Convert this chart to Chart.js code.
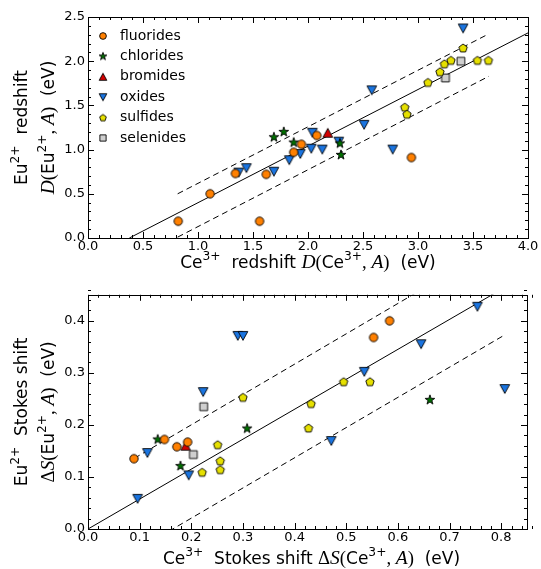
<!DOCTYPE html>
<html>
<head>
<meta charset="utf-8">
<script src="https://cdn.jsdelivr.net/npm/chart.js@4.4.0/dist/chart.umd.min.js"></script>
<style>
    body { margin: 0; background: #fff; }
    canvas { position: absolute; left: 0; }
</style>
</head>
<body>
<canvas id="redshiftChart" width="541" height="284" style="top:0"></canvas>
<canvas id="stokesChart" width="541" height="285" style="top:284px"></canvas>
<script>
// groups (legend order)
const groups = ['fluorides', 'chlorides', 'bromides', 'oxides', 'sulfides', 'selenides'];

// Redshift: [D(Ce3+,A), D(Eu2+,A)] in eV
const redFluorides = [[0.82, 0.19], [1.11, 0.50], [1.34, 0.73], [1.56, 0.19], [1.62, 0.72], [1.87, 0.97], [1.94, 1.06], [2.08, 1.16], [2.94, 0.91]];
const redChlorides = [[1.69, 1.14], [1.78, 1.20], [1.87, 1.08], [2.29, 1.07], [2.30, 0.94]];
const redBromides = [[2.18, 1.19]];
const redOxides = [[1.37, 0.74], [1.44, 0.79], [1.69, 0.75], [1.83, 0.88], [1.93, 0.95], [2.03, 1.01], [2.13, 1.00], [2.04, 1.19], [2.28, 1.09], [2.51, 1.28], [2.58, 1.67], [2.77, 1.00], [3.41, 2.37]];
const redSulfides = [[2.88, 1.48], [2.90, 1.40], [3.09, 1.76], [3.20, 1.88], [3.24, 1.97], [3.30, 2.01], [3.41, 2.15], [3.54, 2.01], [3.64, 2.01]];
const redSelenides = [[3.25, 1.81], [3.39, 2.00]];
const redFit = [[0.376, 0], [4.0, 2.32]];
const redUpper = [[0.815, 0.50], [3.645, 2.31]];
const redLower = [[0.815, 0.01], [3.645, 1.83]];
const redXTicks = [0, 0.5, 1.0, 1.5, 2.0, 2.5, 3.0, 3.5, 4.0];
const redYTicks = [0, 0.5, 1.0, 1.5, 2.0, 2.5];

// Stokes shift: [dS(Ce3+,A), dS(Eu2+,A)] in eV
const stokesFluorides = [[0.089, 0.135], [0.148, 0.172], [0.172, 0.158], [0.193, 0.167], [0.553, 0.368], [0.584, 0.400]];
const stokesChlorides = [[0.135, 0.172], [0.179, 0.121], [0.308, 0.193], [0.662, 0.248]];
const stokesBromides = [[0.189, 0.160]];
const stokesOxides = [[0.096, 0.058], [0.115, 0.146], [0.195, 0.103], [0.223, 0.263], [0.290, 0.371], [0.300, 0.371], [0.471, 0.169], [0.535, 0.302], [0.645, 0.355], [0.754, 0.427], [0.807, 0.269]];
const stokesSulfides = [[0.221, 0.109], [0.251, 0.162], [0.256, 0.131], [0.256, 0.114], [0.300, 0.253], [0.427, 0.194], [0.432, 0.241], [0.495, 0.283], [0.546, 0.283]];
const stokesSelenides = [[0.224, 0.235], [0.204, 0.143]];
const stokesFit = [[0, 0], [0.85, 0.489]];
const stokesUpper = [[0.09, 0.136], [0.807, 0.554]];
const stokesLower = [[0.09, -0.043], [0.807, 0.373]];
const stokesXTicks = [0, 0.1, 0.2, 0.3, 0.4, 0.5, 0.6, 0.7, 0.8];
const stokesYTicks = [0, 0.1, 0.2, 0.3, 0.4];

// marker look per group
const groupStyle = {
    fluorides: { shape: 'circle', fill: '#ff8000' },
    chlorides: { shape: 'star', fill: '#007000' },
    bromides: { shape: 'triUp', fill: '#d40000' },
    oxides: { shape: 'triDown', fill: '#1a74e0' },
    sulfides: { shape: 'pentagon', fill: '#e6e000' },
    selenides: { shape: 'square', fill: '#cfcfcf' }
};

function makeMarker(shape, fill, scale) {
    const s = 16;
    const c = document.createElement('canvas');
    c.width = s; c.height = s;
    const g = c.getContext('2d');
    g.translate(s / 2, s / 2);
    g.scale(scale, scale);
    g.beginPath();
    if (shape === 'circle') {
        g.arc(0, 0, 4.2, 0, Math.PI * 2);
    } else if (shape === 'triUp') {
        g.moveTo(0, -4.4); g.lineTo(4.8, 4.4); g.lineTo(-4.8, 4.4);
    } else if (shape === 'triDown') {
        g.moveTo(0, 4.4); g.lineTo(4.8, -4.4); g.lineTo(-4.8, -4.4);
    } else if (shape === 'star') {
        for (let i = 0; i < 10; i++) {
            const r = i % 2 ? 2.0 : 5.1;
            const a = -Math.PI / 2 + i * Math.PI / 5;
            g.lineTo(r * Math.cos(a), r * Math.sin(a));
        }
    } else if (shape === 'pentagon') {
        for (let i = 0; i < 5; i++) {
            const a = -Math.PI / 2 + i * 2 * Math.PI / 5;
            g.lineTo(4.4 * Math.cos(a), 4.4 * Math.sin(a) + 0.4);
        }
    } else if (shape === 'square') {
        g.rect(-3.9, -3.9, 7.8, 7.8);
    }
    g.closePath();
    g.fillStyle = fill;
    g.fill();
    g.lineWidth = 0.9 / scale;
    g.strokeStyle = '#000';
    g.stroke();
    return c;
}

// draw text made of mixed fonts (sans, serif italic, superscripts)
function drawRich(ctx, parts, cx, cy, rotated, size) {
    const fonts = {
        n: size + 'px "DejaVu Sans"',
        s: (size * 1.1) + 'px "Liberation Serif"',
        i: 'italic ' + (size * 1.15) + 'px "Liberation Serif"',
        sup: (size * 0.72) + 'px "DejaVu Sans"'
    };
    ctx.save();
    ctx.translate(cx, cy);
    if (rotated) ctx.rotate(-Math.PI / 2);
    let total = 0;
    parts.forEach(([t, k]) => { ctx.font = fonts[k]; total += ctx.measureText(t).width; });
    let x = -total / 2;
    const base = size * 0.36;
    ctx.fillStyle = '#000';
    ctx.textAlign = 'left';
    ctx.textBaseline = 'alphabetic';
    parts.forEach(([t, k]) => {
        ctx.font = fonts[k];
        ctx.fillText(t, x, k === 'sup' ? base - size * 0.45 : base);
        x += ctx.measureText(t).width;
    });
    ctx.restore();
}

// per-chart frame settings (ticks, titles, legend)
const frames = {
    redshiftChart: {
        xMajor: 0.5, xMinor: 0.1, yMajor: 0.5, yMinor: 0.1, legend: true, xTitleGap: 24, xShift: 0,
        xTitle: [['Ce', 'n'], ['3+', 'sup'], ['  redshift ', 'n'], ['D', 'i'], ['(', 's'], ['Ce', 'n'], ['3+', 'sup'], [', ', 's'], ['A', 'i'], [')', 's'], ['  (eV)', 'n']],
        yTitle1: [['Eu', 'n'], ['2+', 'sup'], ['  redshift', 'n']],
        yTitle2: [['D', 'i'], ['(', 's'], ['Eu', 'n'], ['2+', 'sup'], [', ', 's'], ['A', 'i'], [')', 's'], ['  (eV)', 'n']]
    },
    stokesChart: {
        xMajor: 0.1, xMinor: 0.02, yMajor: 0.1, yMinor: 0.02, legend: false, xTitleGap: 29, xShift: 4,
        xTitle: [['Ce', 'n'], ['3+', 'sup'], ['  Stokes shift ', 'n'], ['Δ', 's'], ['S', 'i'], ['(', 's'], ['Ce', 'n'], ['3+', 'sup'], [', ', 's'], ['A', 'i'], [')', 's'], ['  (eV)', 'n']],
        yTitle1: [['Eu', 'n'], ['2+', 'sup'], ['  Stokes shift', 'n']],
        yTitle2: [['Δ', 's'], ['S', 'i'], ['(', 's'], ['Eu', 'n'], ['2+', 'sup'], [', ', 's'], ['A', 'i'], [')', 's'], ['  (eV)', 'n']]
    }
};

// frame + inward ticks on all four sides, plus axis titles
const mplFrame = {
    id: 'mplFrame',
    afterDraw(chart) {
        const o = frames[chart.canvas.id];
        const ctx = chart.ctx;
        const a = chart.chartArea;
        const xs = chart.scales.x, ys = chart.scales.y;
        const snap = v => Math.round(v) + 0.5;
        const isMajor = (v, step) => Math.abs(v / step - Math.round(v / step)) < 1e-6;
        ctx.save();
        ctx.setLineDash([]);
        ctx.strokeStyle = '#000';
        ctx.lineWidth = 1;
        ctx.beginPath();
        const nx = Math.round(xs.max / o.xMinor);
        for (let i = 0; i <= nx; i++) {
            const v = i * o.xMinor;
            const p = snap(xs.getPixelForValue(v));
            const len = isMajor(v, o.xMajor) ? 6 : 3;
            ctx.moveTo(p, a.bottom); ctx.lineTo(p, a.bottom - len);
            ctx.moveTo(p, a.top); ctx.lineTo(p, a.top + len);
        }
        const ny = Math.round(ys.max / o.yMinor);
        for (let i = 0; i <= ny; i++) {
            const v = i * o.yMinor;
            const p = snap(ys.getPixelForValue(v));
            const len = isMajor(v, o.yMajor) ? 6 : 3;
            ctx.moveTo(a.left, p); ctx.lineTo(a.left + len, p);
            ctx.moveTo(a.right, p); ctx.lineTo(a.right - len, p);
        }
        ctx.stroke();
        ctx.strokeRect(snap(a.left), snap(a.top), Math.round(a.right - a.left), Math.round(a.bottom - a.top));
        ctx.restore();

        drawRich(ctx, o.xTitle, (a.left + a.right) / 2 + o.xShift, a.bottom + o.xTitleGap, false, 17);
        drawRich(ctx, o.yTitle1, a.left - 67, (a.top + a.bottom) / 2, true, 17);
        drawRich(ctx, o.yTitle2, a.left - 40, (a.top + a.bottom) / 2, true, 17);

        if (o.legend) {
            ctx.save();
            ctx.font = '14px "DejaVu Sans"';
            ctx.fillStyle = '#000';
            ctx.textBaseline = 'middle';
            groups.forEach((name, i) => {
                const y = a.top + 19 + i * 20.4;
                const st = groupStyle[name];
                const m = makeMarker(st.shape, st.fill, 0.8);
                ctx.drawImage(m, a.left + 15 - 8, y - 8);
                ctx.fillText(name, a.left + 32, y);
            });
            ctx.restore();
        }
    }
};

function pts(arr) {
    return arr.map(([x, y]) => ({ x: x, y: y }));
}

function markerSet(name, arr) {
    const st = groupStyle[name];
    return {
        label: name,
        data: pts(arr),
        pointStyle: makeMarker(st.shape, st.fill, 1),
        showLine: false,
        order: 0
    };
}

function lineSet(arr, dashed) {
    return {
        data: pts(arr),
        showLine: true,
        pointRadius: 0,
        borderColor: '#000',
        borderWidth: 1,
        borderDash: dashed ? [6, 4] : [],
        order: 10
    };
}

function makeChart(id, sets, lines, cfg) {
    const tickFont = { family: 'DejaVu Sans', size: 13 };
    return new Chart(document.getElementById(id), {
        type: 'scatter',
        data: { datasets: sets.concat(lines) },
        options: {
            responsive: false,
            animation: false,
            events: [],
            layout: { padding: cfg.padding },
            scales: {
                x: {
                    type: 'linear',
                    min: 0,
                    max: cfg.xMax,
                    afterBuildTicks: s => { s.ticks = cfg.xTicks.map(v => ({ value: v })); },
                    afterFit: s => { s.height = cfg.xHeight; },
                    ticks: { callback: v => v.toFixed(1), font: tickFont, color: '#000', padding: 1, maxRotation: 0, autoSkip: false },
                    grid: { display: false, drawTicks: false },
                    border: { display: false }
                },
                y: {
                    type: 'linear',
                    min: 0,
                    max: cfg.yMax,
                    afterBuildTicks: s => { s.ticks = cfg.yTicks.map(v => ({ value: v })); },
                    afterFit: s => { s.width = 88; },
                    ticks: { callback: v => v.toFixed(1), font: tickFont, color: '#000', padding: 3, autoSkip: false },
                    grid: { display: false, drawTicks: false },
                    border: { display: false }
                }
            },
            plugins: {
                legend: { display: false },
                tooltip: { enabled: false }
            }
        },
        plugins: [mplFrame]
    });
}

// Redshift chart
makeChart('redshiftChart',
    [markerSet('fluorides', redFluorides), markerSet('chlorides', redChlorides), markerSet('bromides', redBromides),
     markerSet('oxides', redOxides), markerSet('sulfides', redSulfides), markerSet('selenides', redSelenides)],
    [lineSet(redFit, false), lineSet(redUpper, true), lineSet(redLower, true)],
    { padding: { left: 0, right: 13, top: 17, bottom: 0 }, xMax: 4, yMax: 2.5, xTicks: redXTicks, yTicks: redYTicks, xHeight: 46 });

// Stokes shift chart
makeChart('stokesChart',
    [markerSet('fluorides', stokesFluorides), markerSet('chlorides', stokesChlorides), markerSet('bromides', stokesBromides),
     markerSet('oxides', stokesOxides), markerSet('sulfides', stokesSulfides), markerSet('selenides', stokesSelenides)],
    [lineSet(stokesFit, false), lineSet(stokesUpper, true), lineSet(stokesLower, true)],
    { padding: { left: 0, right: 14, top: 5, bottom: 0 }, xMax: 0.85, yMax: 0.45, xTicks: stokesXTicks, yTicks: stokesYTicks, xHeight: 40 });
</script>
</body>
</html>
